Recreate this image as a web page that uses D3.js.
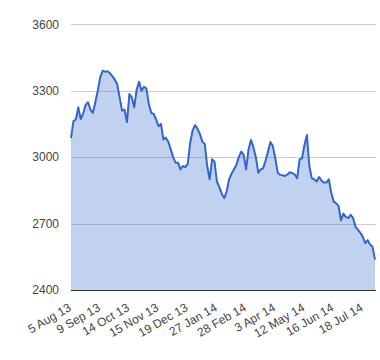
<!DOCTYPE html>
<html>
<head>
<meta charset="utf-8">
<script src="https://cdn.jsdelivr.net/npm/d3@7/dist/d3.min.js"></script>
<style>
  html, body { margin: 0; padding: 0; background: #fff; }
  svg { display: block; }
  text { font-family: Arial, "Liberation Sans", sans-serif; font-size: 12px; fill: #444; }
</style>
</head>
<body>
<script>
// ---- data ----
const values = [
  3086, 3163, 3170, 3225, 3172, 3198, 3236, 3248, 3215, 3200,
  3248, 3300, 3360, 3390, 3386, 3388, 3379, 3366, 3350, 3330,
  3270, 3210, 3215, 3158, 3285, 3270, 3225, 3305, 3340, 3300,
  3318, 3310, 3240, 3200, 3195, 3170, 3140, 3150, 3080, 3088,
  3070, 3035, 3000, 2975, 2975, 2945, 2960, 2955, 2970, 3065,
  3120, 3145, 3128, 3105, 3070, 3060, 2960, 2900, 2990, 2980,
  2890, 2865, 2835, 2815, 2845, 2900, 2925, 2945, 2965, 3000,
  3025, 3010, 2945, 3035, 3078, 3045, 3000, 2930, 2945, 2950,
  2985, 3025, 3068, 3050, 2995, 2930, 2920, 2918, 2915, 2922,
  2932, 2928, 2922, 2905, 2990, 2995, 3055, 3100, 2960, 2905,
  2900, 2890, 2910, 2895, 2885, 2885, 2900, 2840, 2800, 2792,
  2780, 2715, 2745, 2730, 2725, 2740, 2725, 2685, 2672, 2658,
  2640, 2612, 2625, 2605, 2595, 2537
];
const xTickLabels = ["5 Aug 13", "9 Sep 13", "14 Oct 13", "15 Nov 13", "19 Dec 13",
  "27 Jan 14", "28 Feb 14", "3 Apr 14", "12 May 14", "16 Jun 14", "18 Jul 14"];
const xTickEvery = 12;
const yTicks = [2400, 2700, 3000, 3300, 3600];

// ---- layout ----
const W = 380, H = 360;
const mLeft = 71, mRight = 375, mTop = 24.3, mBottom = 290;

const svg = d3.select("body").append("svg").attr("width", W).attr("height", H);

const x = d3.scaleLinear().domain([0, values.length - 1]).range([mLeft, mRight]);
const y = d3.scaleLinear().domain([2400, 3600]).range([mBottom, mTop]);

// gridlines
svg.append("g").selectAll("line").data(yTicks.filter(d => d !== 2400)).join("line")
  .attr("x1", mLeft).attr("x2", mRight + 1)
  .attr("y1", d => Math.round(y(d)) + 0.5).attr("y2", d => Math.round(y(d)) + 0.5)
  .attr("stroke", "#cccccc").attr("stroke-width", 1);

// area
const area = d3.area().x((d, i) => x(i)).y0(y(2400)).y1(d => y(d));
svg.append("path").datum(values).attr("d", area)
  .attr("fill", "#3366cc").attr("fill-opacity", 0.3);

// line
const line = d3.line().x((d, i) => x(i)).y(d => y(d));
svg.append("path").datum(values).attr("d", line)
  .attr("fill", "none").attr("stroke", "#3366cc").attr("stroke-width", 2)
  .attr("stroke-linejoin", "round");

// baseline
svg.append("line")
  .attr("x1", mLeft).attr("x2", mRight + 1)
  .attr("y1", Math.round(y(2400)) + 0.5).attr("y2", Math.round(y(2400)) + 0.5)
  .attr("stroke", "#333333").attr("stroke-width", 1);

// y labels
svg.append("g").selectAll("text").data(yTicks).join("text")
  .attr("x", mLeft - 12).attr("y", d => y(d)).attr("dy", "0.35em")
  .attr("text-anchor", "end").text(d => d);

// x labels (rotated)
svg.append("g").selectAll("text").data(xTickLabels).join("text")
  .attr("text-anchor", "end")
  .attr("transform", (d, i) => `translate(${x(i * xTickEvery) + 1},310) rotate(-30)`)
  .text(d => d);
</script>
</body>
</html>
